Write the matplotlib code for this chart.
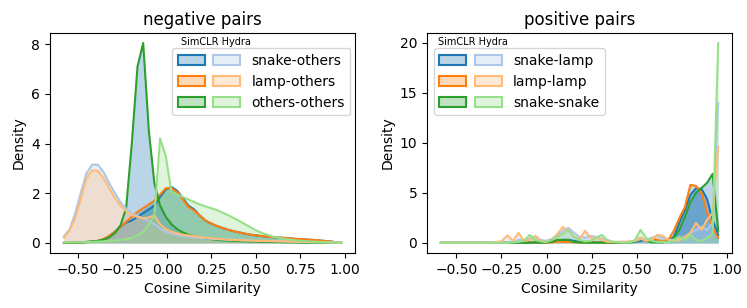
import matplotlib
matplotlib.use('Agg')
import matplotlib.pyplot as plt
from matplotlib.patches import Patch
from matplotlib.legend_handler import HandlerTuple

# bin centres
x_neg = [-0.580, -0.548, -0.516, -0.484, -0.453, -0.421, -0.389, -0.357, -0.325, -0.293,
         -0.262, -0.230, -0.198, -0.166, -0.134, -0.102, -0.071, -0.039, -0.007, 0.025,
         0.057, 0.089, 0.120, 0.152, 0.184, 0.216, 0.248, 0.280, 0.311, 0.343,
         0.375, 0.407, 0.439, 0.471, 0.502, 0.534, 0.566, 0.598, 0.630, 0.662,
         0.693, 0.725, 0.757, 0.789, 0.821, 0.853, 0.884, 0.916, 0.948, 0.980]
x_pos = [-0.585, -0.554, -0.524, -0.493, -0.462, -0.432, -0.401, -0.370, -0.339, -0.309,
         -0.278, -0.247, -0.217, -0.186, -0.155, -0.125, -0.094, -0.063, -0.032, -0.002,
         0.029, 0.060, 0.090, 0.121, 0.152, 0.183, 0.213, 0.244, 0.275, 0.305,
         0.336, 0.367, 0.397, 0.428, 0.459, 0.490, 0.520, 0.551, 0.582, 0.612,
         0.643, 0.674, 0.704, 0.735, 0.766, 0.796, 0.827, 0.858, 0.888, 0.919, 0.950]

# negative pairs - SimCLR
neg_simclr_snake = [0, 0, 0.01, 0.02, 0.03, 0.05, 0.08, 0.15, 0.28, 0.45,
                    0.65, 0.82, 0.9, 1.05, 1.2, 1.35, 1.5, 1.85, 2.15, 2.25,
                    2.1, 1.8, 1.5, 1.35, 1.1, 0.9, 0.78, 0.68, 0.6, 0.53,
                    0.47, 0.42, 0.37, 0.33, 0.3, 0.27, 0.25, 0.23, 0.21, 0.2,
                    0.18, 0.16, 0.15, 0.13, 0.12, 0.1, 0.08, 0.06, 0.03, 0.0]
neg_simclr_lamp = [0, 0, 0.01, 0.02, 0.03, 0.05, 0.08, 0.15, 0.28, 0.45,
                   0.65, 0.85, 1.05, 1.25, 1.4, 1.55, 1.7, 1.95, 2.2, 2.2,
                   2.05, 1.75, 1.45, 1.3, 1.1, 0.9, 0.78, 0.68, 0.6, 0.53,
                   0.47, 0.42, 0.37, 0.33, 0.3, 0.27, 0.25, 0.23, 0.21, 0.2,
                   0.18, 0.16, 0.15, 0.13, 0.12, 0.1, 0.08, 0.06, 0.03, 0.0]
neg_simclr_others = [0, 0, 0.01, 0.02, 0.04, 0.06, 0.08, 0.12, 0.22, 0.4,
                     0.7, 1.4, 4.0, 7.1, 8.05, 4.5, 2.4, 1.5, 1.05, 0.75,
                     0.55, 0.42, 0.33, 0.27, 0.22, 0.18, 0.15, 0.12, 0.1, 0.09,
                     0.08, 0.07, 0.06, 0.05, 0.05, 0.04, 0.04, 0.03, 0.03, 0.02,
                     0.02, 0.02, 0.01, 0.01, 0.01, 0.01, 0, 0, 0, 0]
# negative pairs - Hydra
neg_hydra_snake = [0.27, 0.55, 1.2, 2.05, 2.8, 3.15, 3.15, 2.85, 2.4, 2.0,
                   1.65, 1.38, 1.2, 1.08, 0.98, 0.88, 0.75, 0.58, 0.45, 0.38,
                   0.32, 0.28, 0.25, 0.22, 0.2, 0.18, 0.16, 0.15, 0.14, 0.13,
                   0.12, 0.11, 0.1, 0.1, 0.09, 0.08, 0.08, 0.07, 0.07, 0.06,
                   0.06, 0.05, 0.05, 0.04, 0.04, 0.03, 0.03, 0.02, 0.02, 0.01]
neg_hydra_lamp = [0.2, 0.5, 1.0, 1.8, 2.6, 2.92, 2.9, 2.6, 2.2, 1.8,
                  1.5, 1.28, 1.12, 1.04, 1.0, 1.02, 1.1, 0.75, 0.55, 0.45,
                  0.38, 0.33, 0.3, 0.27, 0.24, 0.21, 0.19, 0.17, 0.15, 0.13,
                  0.12, 0.11, 0.1, 0.09, 0.08, 0.08, 0.07, 0.07, 0.06, 0.06,
                  0.05, 0.05, 0.04, 0.04, 0.03, 0.03, 0.02, 0.02, 0.01, 0.01]
neg_hydra_others = [0.01, 0.02, 0.02, 0.03, 0.03, 0.04, 0.05, 0.06, 0.08, 0.1,
                    0.12, 0.15, 0.2, 0.3, 0.45, 0.75, 1.1, 4.2, 3.5, 2.05,
                    1.95, 1.85, 1.75, 1.65, 1.55, 1.47, 1.4, 1.32, 1.22, 1.12,
                    1.0, 0.88, 0.75, 0.62, 0.5, 0.4, 0.32, 0.25, 0.2, 0.16,
                    0.13, 0.1, 0.08, 0.06, 0.05, 0.04, 0.03, 0.02, 0.01, 0]

# positive pairs - SimCLR
pos_simclr_snakelamp = [0, 0, 0, 0, 0, 0, 0, 0, 0, 0,
                        0, 0, 0.01, 0.01, 0.02, 0.02, 0.02, 0.02, 0.02, 0.05,
                        0.1, 0.2, 0.3, 0.3, 0.2, 0.1, 0.1, 0.1, 0.05, 0.05,
                        0.05, 0.05, 0.05, 0.05, 0.05, 0.1, 0.2, 0.3, 0.2, 0.2,
                        0.1, 0.2, 0.6, 2.0, 3.3, 4.8, 5.45, 5.4, 4.4, 2.3, 0.8]
pos_simclr_lamplamp = [0, 0, 0, 0, 0, 0, 0, 0, 0, 0,
                       0, 0.02, 0.05, 0.02, 0.05, 0.02, 0.05, 0.05, 0.02, 0.02,
                       0.05, 0.1, 0.1, 0.1, 0.05, 0.05, 0.05, 0.05, 0.05, 0.02,
                       0.02, 0.02, 0.05, 0.05, 0.1, 0.1, 0.4, 0.2, 0.5, 0.3,
                       0.2, 0.3, 1.2, 2.5, 3.6, 5.8, 5.7, 5.0, 3.1, 1.5, 0.5]
pos_simclr_snakesnake = [0, 0, 0, 0, 0, 0, 0, 0, 0, 0,
                         0, 0, 0, 0, 0, 0, 0.02, 0.05, 0.02, 0.05,
                         0.1, 0.3, 0.3, 0.3, 0.1, 0.05, 0.02, 0.02, 0.02, 0.02,
                         0.02, 0.02, 0.02, 0.02, 0.05, 0.1, 0.5, 0.2, 0.05, 0.05,
                         0.05, 0.16, 0.5, 1.3, 2.6, 4.1, 5.0, 5.5, 6.0, 6.9, 1.2]
# positive pairs - Hydra
pos_hydra_snakelamp = [0, 0, 0, 0, 0, 0, 0, 0, 0, 0,
                       0.02, 0.05, 0.05, 0.1, 0.3, 0.3, 0.4, 0.65, 0.3, 0.2,
                       0.4, 0.8, 1.2, 1.5, 1.0, 0.6, 0.5, 0.7, 0.6, 0.4,
                       0.2, 0.1, 0.1, 0.1, 0.1, 0.2, 0.4, 0.3, 0.5, 0.7,
                       0.5, 0.3, 0.3, 0.4, 0.6, 1.0, 1.3, 1.6, 1.3, 2.0, 14.0]
pos_hydra_lamplamp = [0, 0, 0, 0, 0, 0, 0, 0, 0, 0,
                      0.05, 0.2, 0.75, 0.2, 1.0, 0.2, 0.3, 0.7, 0.2, 0.1,
                      0.3, 0.9, 1.6, 1.2, 0.6, 0.4, 1.2, 0.5, 0.5, 0.3,
                      0.1, 0.1, 0.1, 0.1, 0.15, 0.2, 0.5, 0.2, 0.3, 0.8,
                      0.7, 0.3, 0.2, 0.3, 0.6, 1.0, 2.0, 1.3, 2.3, 3.0, 9.6]
pos_hydra_snakesnake = [0, 0, 0, 0, 0, 0, 0, 0, 0, 0,
                        0, 0, 0, 0.05, 0.1, 0.2, 0.8, 0.3, 0.15, 0.1,
                        0.3, 0.6, 0.9, 1.25, 0.6, 0.3, 0.15, 0.2, 0.5, 0.8,
                        0.3, 0.1, 0.05, 0.02, 0.05, 0.3, 1.3, 0.5, 0.2, 0.1,
                        0.1, 0.05, 0.3, 0.6, 0.3, 0.8, 0.3, 0.2, 0.5, 0.85, 20.0]

neg_labels = ['snake-others', 'lamp-others', 'others-others']
pos_labels = ['snake-lamp', 'lamp-lamp', 'snake-snake']

dark = ['#1f77b4', '#ff7f0e', '#2ca02c']
light = ['#aec7e8', '#ffbb78', '#98df8a']


def draw(ax, x, simclr, hydra, simclr_fill, hydra_fill, labels):
    # SimCLR first, Hydra on top
    for y, c, fc in zip(simclr, dark, simclr_fill):
        ax.fill_between(x, y, color=fc, alpha=0.3, linewidth=0)
        ax.plot(x, y, color=c, lw=1.5)
    for y, c, fc in zip(hydra, light, hydra_fill):
        ax.fill_between(x, y, color=fc, alpha=0.3, linewidth=0)
        ax.plot(x, y, color=c, lw=1.5)
    handles = []
    for c1, c2 in zip(dark, light):
        p1 = Patch(facecolor=c1, edgecolor=c1, alpha=None, lw=1.5)
        p1.set_facecolor(matplotlib.colors.to_rgba(c1, 0.3))
        p2 = Patch(facecolor=matplotlib.colors.to_rgba(c2, 0.3), edgecolor=c2, lw=1.5)
        handles.append((p1, p2))
    return handles


fig, (ax1, ax2) = plt.subplots(1, 2, figsize=(7.47, 3.08), dpi=100)
fig.subplots_adjust(left=0.067, right=0.980, top=0.893, bottom=0.179, wspace=0.236)

h = draw(ax1, x_neg,
         [neg_simclr_snake, neg_simclr_lamp, neg_simclr_others],
         [neg_hydra_snake, neg_hydra_lamp, neg_hydra_others],
         ['#2ca02c', '#1f77b4', '#1f77b4'], light, neg_labels)
ax1.legend(h, neg_labels, handler_map={tuple: HandlerTuple(ndivide=None, pad=0.6)},
           handlelength=4.5, loc='upper right', bbox_to_anchor=(0.985, 0.93),
           borderaxespad=0)
ax1.text(0.545, 0.96, 'SimCLR Hydra', transform=ax1.transAxes, fontsize=7,
         ha='center', va='center')
ax1.set_title('negative pairs')

h = draw(ax2, x_pos,
         [pos_simclr_snakelamp, pos_simclr_lamplamp, pos_simclr_snakesnake],
         [pos_hydra_snakelamp, pos_hydra_lamplamp, pos_hydra_snakesnake],
         ['#1f77b4', '#1f77b4', '#1f77b4'], ['#aec7e8', '#aec7e8', '#98df8a'], pos_labels)
ax2.legend(h, pos_labels, handler_map={tuple: HandlerTuple(ndivide=None, pad=0.6)},
           handlelength=4.5, loc='upper left', bbox_to_anchor=(0.022, 0.93),
           borderaxespad=0)
ax2.text(0.15, 0.96, 'SimCLR Hydra', transform=ax2.transAxes, fontsize=7,
         ha='center', va='center')
ax2.set_title('positive pairs')

for ax in (ax1, ax2):
    ax.set_xlabel('Cosine Similarity')
    ax.set_ylabel('Density')
    ax.set_xticks([-0.5, -0.25, 0, 0.25, 0.5, 0.75, 1.0])

ax1.set_yticks([0, 2, 4, 6, 8])
ax2.set_yticks([0, 5, 10, 15, 20])

plt.savefig('out.png', dpi=100)
